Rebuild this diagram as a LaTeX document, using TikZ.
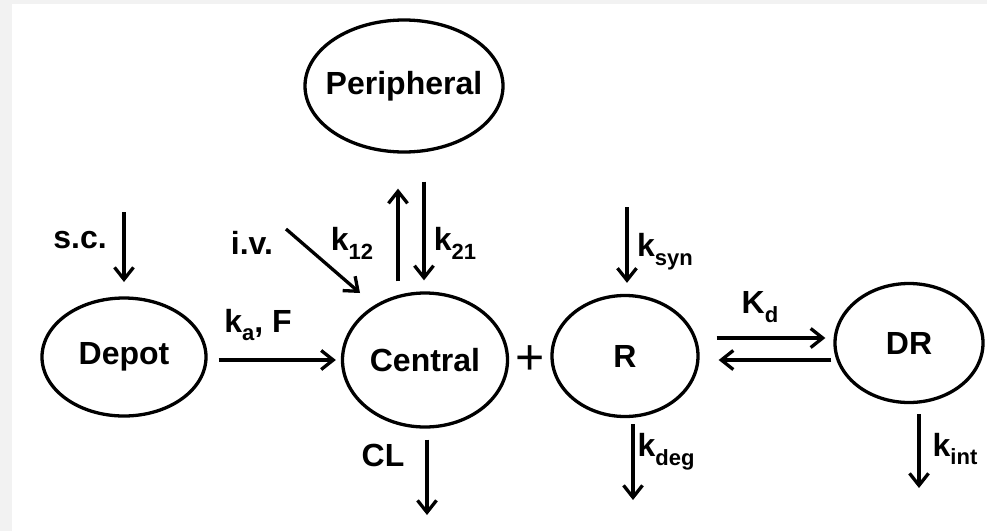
\documentclass[tikz,border=0pt]{standalone}
\usepackage{fontspec}
\setmainfont{Liberation Sans}
\usetikzlibrary{arrows.meta,calc,shapes.geometric}
\newcommand\subsc[1]{\raisebox{-0.28em}{\fontsize{22}{24}\selectfont #1}}
\newcommand\ztext[1]{\makebox[0pt]{#1}}
\tikzset{
  comp/.style={draw, ellipse, line width=3.3pt, inner sep=0pt, font=\fontsize{32}{36}\selectfont\bfseries},
  lbl/.style={inner sep=0pt, font=\fontsize{32}{36}\selectfont\bfseries},
  arr/.style={line width=3.3pt, -{Straight Barb[length=12pt,width=19pt,line width=3.3pt]}}
}
\begin{document}
\begin{tikzpicture}[x=1pt,y=-1pt]
\fill[black!5] (0,0) rectangle (987,531);
\fill[white] (12,4) rectangle (987,531);
\useasboundingbox (0,0) rectangle (987,531);

\node[comp, minimum width=164pt, minimum height=118pt] (depot) at (124,357) {\ztext{Depot}};
\node[comp, minimum width=198pt, minimum height=132pt] (periph) at (404,86) {\ztext{Peripheral}};
\node[comp, minimum width=165pt, minimum height=134pt] (central) at (425,360) {\ztext{Central}};
\node[comp, minimum width=146pt, minimum height=121pt] (r) at (625,356) {\ztext{R}};
\node[comp, minimum width=148pt, minimum height=119pt] (dr) at (909,343) {\ztext{DR}};

\node[lbl] (plus) at (530,360) {\fontsize{50}{50}\selectfont\mdseries +};

% free ends
\coordinate (scstart) at (124,212);
\coordinate (ivstart) at (286,229);
\coordinate (ivend) at (360,293);
\coordinate (clend) at (427,515);
\coordinate (synstart) at (627,207);
\coordinate (degend) at (633,500);
\coordinate (intend) at (919,488);

\draw[arr] (scstart) -- (scstart |- 0,282);
\draw[arr] (ivstart) -- (ivend);
\draw[arr] ($(depot.east)+(11,3)$) -- ($(central.west)+(-5,0)$);
\draw[arr] ($(central.north)+(-27,-10)$) -- ($(periph.south)+(-6,35)$);
\draw[arr] ($(periph.south)+(20,28)$) -- ($(central.north)+(-1,-11)$);
\draw[arr] (synstart) -- ($(r.north)+(2,-11)$);
\draw[arr] ($(r.east)+(17,-18)$) -- ($(dr.west)+(-8,-5)$);
\draw[arr] ($(dr.west)+(-2,17)$) -- ($(r.east)+(19,4)$);
\draw[arr] ($(central.south)+(2,11)$) -- (clend);
\draw[arr] ($(r.south)+(8,6)$) -- (degend);
\draw[arr] ($(dr.south)+(10,10)$) -- (intend);

\node[lbl] (sc) at (80,240) {s.c.};
\node[lbl] (iv) at (252,243) {i.v.};
\node[lbl] (k12) at (352,243) {k\subsc{12}};
\node[lbl] (k21) at (455,243) {k\subsc{21}};
\node[lbl] (ka) at (258,325) {k\subsc{a}, F};
\node[lbl] (kd) at (760,307) {K\subsc{d}};
\node[lbl] (ksyn) at (665,252) {k\subsc{syn}};
\node[lbl] (cl) at (383,455) {CL};
\node[lbl] (kdeg) at (666,452) {k\subsc{deg}};
\node[lbl] (kint) at (955,449) {k\subsc{int}};
\end{tikzpicture}
\end{document}
